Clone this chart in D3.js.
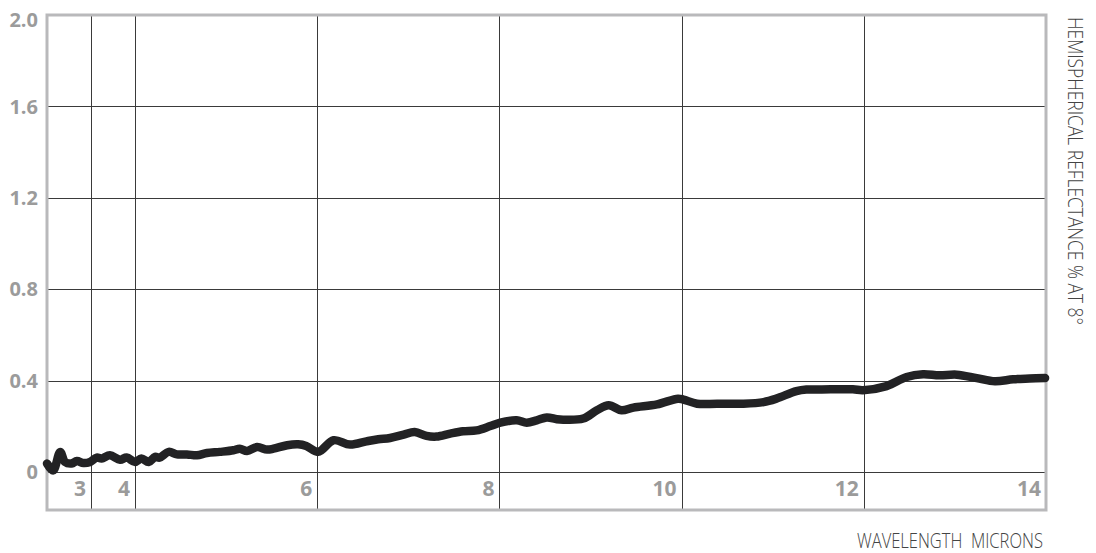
<!DOCTYPE html>
<html>
<head>
<meta charset="utf-8">
<script src="https://cdn.jsdelivr.net/npm/d3@7/dist/d3.min.js"></script>
<style>
  html, body { margin: 0; padding: 0; background: #fff; }
  svg { display: block; }
</style>
</head>
<body>
<svg id="chart" width="1096" height="553"></svg>
<script>
// ---- data ----
const wavelength = [2.0, 2.14, 2.30, 2.41, 2.56, 2.68, 2.83, 2.98, 3.13, 3.24, 3.43, 3.66, 3.81, 4.00,
  4.07, 4.15, 4.22, 4.27, 4.37, 4.46, 4.57, 4.68, 4.79, 4.93, 5.08, 5.15, 5.23, 5.34, 5.45, 5.52,
  5.67, 5.79, 5.88, 6.01, 6.18, 6.36, 6.54, 6.67, 6.80, 6.95, 7.07, 7.20, 7.31, 7.46, 7.60, 7.75,
  7.90, 8.01, 8.19, 8.30, 8.41, 8.52, 8.63, 8.70, 8.92, 9.07, 9.20, 9.34, 9.47, 9.73, 9.96, 10.02,
  10.17, 10.39, 10.68, 10.90, 11.04, 11.26, 11.37, 11.52, 11.88, 11.99, 12.25, 12.47, 12.65, 12.83,
  13.02, 13.24, 13.44, 13.64, 13.82, 13.99];
const reflectance = [0.037, 0.007, 0.088, 0.044, 0.037, 0.048, 0.039, 0.044, 0.063, 0.059, 0.073, 0.054, 0.063, 0.044,
  0.059, 0.044, 0.066, 0.063, 0.088, 0.077, 0.077, 0.073, 0.083, 0.088, 0.095, 0.102, 0.092, 0.109, 0.098, 0.102,
  0.117, 0.121, 0.114, 0.088, 0.139, 0.120, 0.134, 0.143, 0.149, 0.164, 0.175, 0.158, 0.155, 0.168, 0.178, 0.182,
  0.201, 0.216, 0.226, 0.216, 0.226, 0.239, 0.231, 0.229, 0.234, 0.270, 0.292, 0.270, 0.282, 0.296, 0.321, 0.317,
  0.299, 0.299, 0.299, 0.306, 0.321, 0.354, 0.361, 0.361, 0.362, 0.358, 0.376, 0.416, 0.428, 0.423,
  0.426, 0.411, 0.397, 0.406, 0.409, 0.411];
const xTicks = [3, 4, 6, 8, 10, 12, 14];
const xTickLabels = ["3", "4", "6", "8", "10", "12", "14"];
const yTicks = [0, 0.4, 0.8, 1.2, 1.6, 2.0];
const yTickLabels = ["0", "0.4", "0.8", "1.2", "1.6", "2.0"];
const xTitle = "WAVELENGTH  MICRONS";
const yTitle = "HEMISPHERICAL REFLECTANCE % AT 8°";

// ---- layout ----
const svg = d3.select("#chart");
const plotLeft = 47, plotRight = 1046, plotTop = 15, zeroY = 472, plotBottom = 510;

// piecewise scale: 2..4 compressed, 4..14 linear
const x = d3.scaleLinear().domain([2, 4, 14]).range([plotLeft, 135, plotRight]);
const y = d3.scaleLinear().domain([0, 2]).range([zeroY, plotTop]);

const grid = svg.append("g");
grid.selectAll("line.h").data(yTicks.filter(d => d < 2)).enter().append("line")
  .attr("x1", plotLeft).attr("x2", plotRight)
  .attr("y1", d => Math.round(y(d)) + 0.5).attr("y2", d => Math.round(y(d)) + 0.5)
  .attr("stroke", "#3a3a3a").attr("stroke-width", 1);
grid.selectAll("line.v").data(xTicks.filter(d => d < 14)).enter().append("line")
  .attr("x1", d => Math.round(x(d)) + 0.5).attr("x2", d => Math.round(x(d)) + 0.5)
  .attr("y1", plotTop).attr("y2", plotBottom)
  .attr("stroke", "#3a3a3a").attr("stroke-width", 1);

// frame
svg.append("rect")
  .attr("x", plotLeft).attr("y", plotTop)
  .attr("width", plotRight - plotLeft).attr("height", plotBottom - plotTop)
  .attr("fill", "none").attr("stroke", "#b9b9bb").attr("stroke-width", 3);

// y tick labels
svg.append("g").selectAll("text").data(yTicks).enter().append("text")
  .attr("x", 38)
  .attr("y", d => Math.max(y(d), 20))
  .attr("dy", "0.36em")
  .attr("text-anchor", "end")
  .attr("font-family", "'Open Sans', sans-serif")
  .attr("font-weight", 700)
  .attr("font-size", 20)
  .attr("fill", "#9b9b9b")
  .text((d, i) => yTickLabels[i]);

// x tick labels
svg.append("g").selectAll("text").data(xTicks).enter().append("text")
  .attr("x", d => x(d) - 5)
  .attr("y", 496)
  .attr("text-anchor", "end")
  .attr("font-family", "'Open Sans', sans-serif")
  .attr("font-weight", 700)
  .attr("font-size", 21)
  .attr("fill", "#9b9b9b")
  .text((d, i) => xTickLabels[i]);

// curve
const line = d3.line()
  .x((d, i) => x(wavelength[i]))
  .y(d => y(d))
  .curve(d3.curveCatmullRom.alpha(0.5));
svg.append("path")
  .datum(reflectance)
  .attr("d", line)
  .attr("fill", "none")
  .attr("stroke", "#222224")
  .attr("stroke-width", 8.5)
  .attr("stroke-linecap", "round")
  .attr("stroke-linejoin", "round");

// axis titles
svg.append("text")
  .attr("x", 1043).attr("y", 548)
  .attr("text-anchor", "end")
  .attr("font-family", "'Open Sans', sans-serif")
  .attr("font-weight", 300)
  .attr("font-size", 21)
  .attr("fill", "#444")
  .attr("textLength", 186)
  .attr("lengthAdjust", "spacingAndGlyphs")
  .style("white-space", "pre")
  .text(xTitle);

svg.append("text")
  .attr("transform", "translate(1068,17) rotate(90)")
  .attr("text-anchor", "start")
  .attr("font-family", "'Open Sans', sans-serif")
  .attr("font-weight", 300)
  .attr("font-size", 21)
  .attr("fill", "#444")
  .attr("textLength", 308)
  .attr("lengthAdjust", "spacingAndGlyphs")
  .text(yTitle);
</script>
</body>
</html>
